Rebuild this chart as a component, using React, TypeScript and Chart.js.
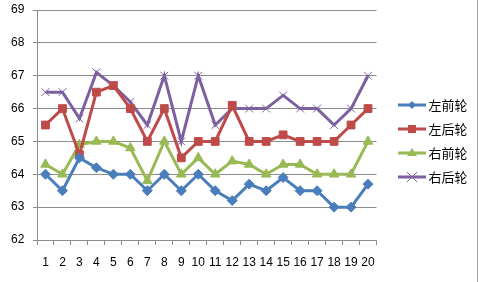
import React, { useEffect, useRef } from "react";
import { Chart, registerables } from "chart.js";

Chart.register(...registerables);

const categories = ["1","2","3","4","5","6","7","8","9","10","11","12","13","14","15","16","17","18","19","20"];
const seriesNames = ["左前轮", "左后轮", "右前轮", "右后轮"];
const leftFront = [64, 63.5, 64.5, 64.2, 64, 64, 63.5, 64, 63.5, 64, 63.5, 63.2, 63.7, 63.5, 63.9, 63.5, 63.5, 63, 63, 63.7];
const leftRear = [65.5, 66, 64.6, 66.5, 66.7, 66, 65, 66, 64.5, 65, 65, 66.1, 65, 65, 65.2, 65, 65, 65, 65.5, 66];
const rightFront = [64.3, 64, 64.9, 65, 65, 64.8, 63.8, 65, 64, 64.5, 64, 64.4, 64.3, 64, 64.3, 64.3, 64, 64, 64, 65];
const rightRear = [66.5, 66.5, 65.7, 67.1, 66.7, 66.2, 65.5, 67, 65, 67, 65.5, 66, 66, 66, 66.4, 66, 66, 65.5, 66, 67];
const yMin = 62;
const yMax = 69;

const colors = ["#4A7EBB", "#BE4B48", "#98B954", "#7D60A0"];
const styles = ["rectRot", "rect", "triangle", "crossRot"];
const radii = [5, 5.5, 5.5, 5.5];

function makeLegendImage(color: string, style: string): HTMLCanvasElement {
  const c = document.createElement("canvas");
  c.width = 28;
  c.height = 12;
  const ctx = c.getContext("2d")!;
  ctx.strokeStyle = color;
  ctx.fillStyle = color;
  ctx.lineWidth = 3;
  ctx.beginPath();
  ctx.moveTo(0, 6);
  ctx.lineTo(28, 6);
  ctx.stroke();
  const cx = 14, cy = 6;
  ctx.lineWidth = 1;
  ctx.beginPath();
  if (style === "rectRot") {
    ctx.moveTo(cx, cy - 4); ctx.lineTo(cx + 4, cy); ctx.lineTo(cx, cy + 4); ctx.lineTo(cx - 4, cy); ctx.closePath(); ctx.fill();
  } else if (style === "rect") {
    ctx.rect(cx - 4, cy - 4, 8, 8); ctx.fill();
  } else if (style === "triangle") {
    ctx.moveTo(cx, cy - 5); ctx.lineTo(cx + 5, cy + 3); ctx.lineTo(cx - 5, cy + 3); ctx.closePath(); ctx.fill();
  } else {
    ctx.moveTo(cx - 5, cy - 5); ctx.lineTo(cx + 5, cy + 5); ctx.moveTo(cx + 5, cy - 5); ctx.lineTo(cx - 5, cy + 5); ctx.stroke();
  }
  return c;
}

export default function App() {
  const ref = useRef<HTMLCanvasElement>(null);
  useEffect(() => {
    const canvas = ref.current!;
    const allData = [leftFront, leftRear, rightFront, rightRear];
    const font = '"Liberation Sans", "Noto Sans CJK SC", sans-serif';
    const chart = new Chart(canvas, {
      type: "line",
      data: {
        labels: categories,
        datasets: allData.map((d, i) => ({
          label: seriesNames[i],
          data: d,
          borderColor: colors[i],
          backgroundColor: colors[i],
          borderWidth: 3,
          pointStyle: styles[i] as any,
          pointRadius: radii[i],
          pointBorderWidth: 1,
          pointBorderColor: colors[i],
          pointBackgroundColor: colors[i],
          tension: 0,
          yAxisID: "y",
        })),
      },
      options: {
        animation: false,
        responsive: false,
        layout: { padding: { left: 11, right: 10, top: 0, bottom: 0 } },
        plugins: {
          title: { display: false },
          tooltip: { enabled: false },
          legend: {
            position: "right",
            align: "center",
            labels: {
              usePointStyle: true,
              pointStyleWidth: 20,
              padding: 11,
              color: "#000",
              font: { size: 13, family: '"Noto Sans CJK SC", sans-serif' },
              generateLabels: (ch: any) =>
                ch.data.datasets.map((ds: any, i: number) => ({
                  text: ds.label,
                  pointStyle: makeLegendImage(colors[i], styles[i]),
                  fillStyle: "transparent",
                  strokeStyle: "transparent",
                  lineWidth: 0,
                  hidden: false,
                  datasetIndex: i,
                })),
            },
          },
        },
        scales: {
          x: {
            type: "category",
            offset: true,
            grid: { offset: true, drawOnChartArea: false, drawTicks: true, tickLength: 5, color: "#8C8C8C" },
            border: { display: true, color: "#8C8C8C" },
            ticks: { color: "#000", font: { size: 12, family: font }, padding: 10, maxRotation: 0, autoSkip: false },
            afterFit: (s: any) => { s.height = 42; },
          },
          y: {
            type: "linear",
            min: yMin,
            max: yMax,
            ticks: { stepSize: 1, color: "#000", font: { size: 12, family: font }, padding: 2.8, crossAlign: "far" },
            grid: { color: "#8C8C8C", tickLength: 4, drawTicks: true },
            border: { display: true, color: "#8C8C8C" },
            afterFit: (s: any) => { s.width = 26; },
          },
          y2: {
            type: "linear",
            position: "right",
            display: true,
            grid: { display: false, drawTicks: false },
            border: { display: false },
            ticks: { display: false },
            afterFit: (s: any) => { s.width = 14.5; },
          },
        },
      } as any,
    });
    return () => chart.destroy();
  }, []);
  return (
    <div style={{ position: "absolute", left: 0, top: 0, width: 478, height: 282, boxSizing: "border-box", borderRight: "1px solid #A0A0A0", background: "#fff" }}>
      <canvas ref={ref} width={477} height={282} style={{ display: "block" }} />
    </div>
  );
}
